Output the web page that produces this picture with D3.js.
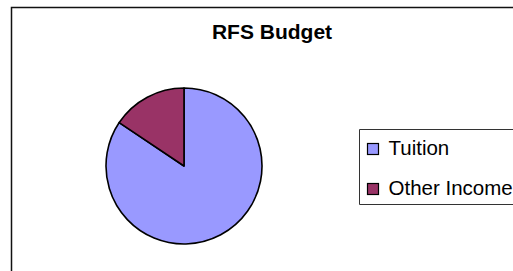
<!DOCTYPE html>
<html>
<head>
<meta charset="utf-8">
<script src="https://cdn.jsdelivr.net/npm/d3@7"></script>
<style>
  html, body { margin: 0; background: #fff; overflow: hidden; }
  svg { display: block; overflow: hidden; }
</style>
</head>
<body>
<div id="chart"></div>
<script>
// data
const categories = ["Tuition", "Other Income"];
const shares = [84.4, 15.6];
const colors = ["#9999FF", "#993366"];

function drawPie() {
    const width = 513;
    const height = 271;
    const center = [184, 166];
    const radius = 78;

    let svg = d3.select("#chart")
        .append("svg")
        .attr("width", width)
        .attr("height", height);

    //chart area frame, runs off the right and bottom edge
    svg.append("path")
        .attr("d", `M11.5,${height + 5}V7.5H${width + 5}`)
        .attr("fill", "none")
        .attr("stroke", "#111")
        .attr("stroke-width", 1.5);

    //title
    svg.append("text")
        .attr("x", 272)
        .attr("y", 39)
        .attr("text-anchor", "middle")
        .attr("font-family", "Liberation Sans, Arial, sans-serif")
        .attr("font-weight", "bold")
        .attr("font-size", 21)
        .attr("fill", "#000")
        .text("RFS Budget");

    let data = categories.map((c, i) => ({name: c, value: shares[i]}));
    let color = d3.scaleOrdinal().domain(categories).range(colors);

    let pie = d3.pie().sort(null).value(d => d.value);
    let arc = d3.arc().innerRadius(0).outerRadius(radius);

    svg.append("g")
        .attr("transform", `translate(${center[0]},${center[1]})`)
        .selectAll("path")
        .data(pie(data))
        .join("path")
        .attr("d", arc)
        .attr("fill", d => color(d.data.name))
        .attr("stroke", "#000")
        .attr("stroke-width", 1.6)
        .attr("stroke-linejoin", "round");

    //legend, box also runs off the right edge
    let legend = svg.append("g").attr("transform", "translate(359.5,129.5)");
    legend.append("path")
        .attr("d", `M${width},0H0V75H${width}`)
        .attr("fill", "#fff")
        .attr("stroke", "#333")
        .attr("stroke-width", 1);

    let items = legend.selectAll("g.item")
        .data(categories)
        .join("g")
        .attr("class", "item")
        .attr("transform", (d, i) => `translate(8,${14 + i * 40})`);
    items.append("rect")
        .attr("width", 11)
        .attr("height", 11)
        .attr("fill", d => color(d))
        .attr("stroke", "#000")
        .attr("stroke-width", 1.2);
    items.append("text")
        .attr("x", 21)
        .attr("y", 11)
        .attr("font-family", "Liberation Sans, Arial, sans-serif")
        .attr("font-size", 20.5)
        .attr("fill", "#000")
        .text(d => d);
}
drawPie();
</script>
</body>
</html>
